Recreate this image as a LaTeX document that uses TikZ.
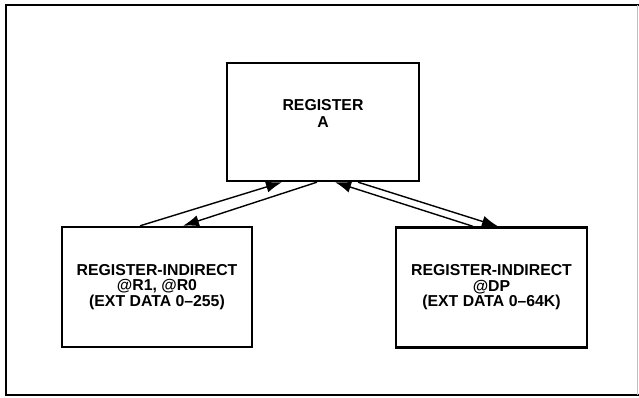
\documentclass[tikz,border=0pt]{standalone}
\usepackage{fontspec}
\setmainfont{Liberation Sans}
\usetikzlibrary{arrows.meta,positioning}
\tikzset{
  regbox/.style={draw, line width=2pt, minimum width=5.73cm, minimum height=3.6cm,
    align=center, font=\bfseries\fontsize{13.5}{13.2}\selectfont},
  regtext/.style={align=center, font=\bfseries\fontsize{13.5}{14.5}\selectfont},
  flow/.style={line width=1.2pt, -{Latex[length=0.48cm,width=0.34cm]}},
}

\begin{document}
\begin{tikzpicture}[x=0.03cm,y=-0.03cm]
		%%%%% START %%%%%
		\useasboundingbox (0,0) rectangle (639,398);
		
		% outer frame
		\draw[line width=2pt] (639,5) -- (6,5) -- (6,395) -- (639,395);
		\draw[line width=0.3pt, color=black!25] (637,5) -- (637,395);
		
		\node[regbox, minimum width=5.76cm, minimum height=3.54cm] (regA) at (323,122) {};
		\node[regtext] (regAtext) at ([yshift=0.27cm]regA.center) {REGISTER\\A};
		
		\node[regbox, minimum width=5.7cm] (indR) at (157,287) {REGISTER-INDIRECT\\@R1, @R0\\(EXT DATA 0--255)};
		\node[regbox] (indDP) at (491.5,287.5) {REGISTER-INDIRECT\\@DP\\(EXT DATA 0--64K)};
		
		\draw[flow] ([xshift=-0.51cm]indR.north) -- ([xshift=-1.23cm]regA.south);
		\draw[flow] ([xshift=-0.18cm]regA.south) -- ([xshift=0.78cm]indR.north);
		
		\draw[flow] ([xshift=-0.555cm]indDP.north) -- ([xshift=0.36cm]regA.south);
		\draw[flow] ([xshift=1.05cm]regA.south) -- ([xshift=0.195cm]indDP.north);
		
		%%%%% END %%%%%
\end{tikzpicture}
\end{document}
